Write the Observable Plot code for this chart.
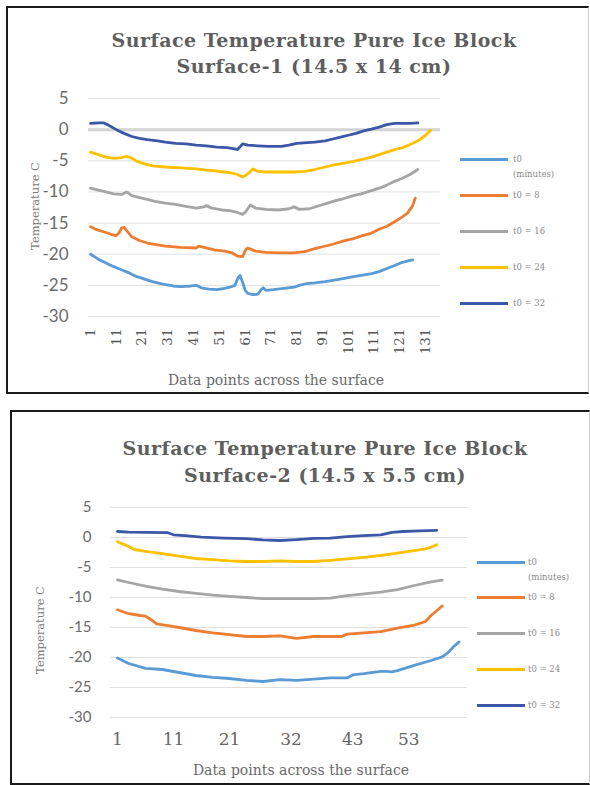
<!DOCTYPE html>
<html><head><meta charset="utf-8">
<script src="https://cdn.jsdelivr.net/npm/d3@7"></script>
<script src="https://cdn.jsdelivr.net/npm/@observablehq/plot@0.6"></script>
<style>
body{margin:0;background:#fff;width:590px;height:785px;overflow:hidden;position:relative;font-family:'DejaVu Serif',serif;}
.box{position:absolute;box-sizing:border-box;border:2px solid #1a1a1a;border-right:1px solid #cfcfcf;}
.svgwrap{position:absolute;left:0;}
.title{position:absolute;text-align:center;font-weight:bold;color:#5e5e5e;font-size:19px;letter-spacing:0.5px;white-space:nowrap;width:500px;}
.ytitle{position:absolute;transform:translate(-50%,-50%) rotate(-90deg);font-size:11.5px;color:#7a7a7a;white-space:nowrap;}
.xtitle{position:absolute;transform:translate(-50%,-50%);font-size:14px;color:#6a6a6a;white-space:nowrap;}
.sw{position:absolute;height:3px;}
.lt{position:absolute;font-size:8.5px;line-height:15px;color:#8a8a8a;width:52px;}
</style></head><body>
<script>
// ---------- data ----------
const seriesNames = ["t0 (minutes)", "t0 = 8", "t0 = 16", "t0 = 24", "t0 = 32"];
const seriesColors = ["#5b9bd5", "#ed7d31", "#a5a5a5", "#ffc000", "#3a57a8"];
const yTicks = [5, 0, -5, -10, -15, -20, -25, -30];
const xTicks1 = [1, 11, 21, 31, 41, 51, 61, 71, 81, 91, 101, 111, 121, 131];
const xTicks2 = [1, 11, 21, 32, 43, 53];

// Surface-1 (data point, temperature)
const s1_t0 = [[1,-20.0],[4,-20.8],[7,-21.4],[10,-22.0],[13,-22.5],[16,-23.0],[19,-23.6],[22,-24.0],[25,-24.4],[29,-24.8],[33,-25.1],[36,-25.2],[40,-25.1],[42,-25.0],[44,-25.4],[47,-25.6],[50,-25.7],[53,-25.5],[55,-25.3],[57,-25.0],[58,-24.0],[59,-23.4],[60,-24.5],[61,-25.8],[62,-26.3],[64,-26.5],[66,-26.4],[67,-25.8],[68,-25.4],[69,-25.8],[72,-25.7],[76,-25.5],[80,-25.3],[82,-25.0],[85,-24.7],[88,-24.6],[92,-24.4],[95,-24.2],[99,-23.9],[103,-23.6],[106,-23.4],[110,-23.1],[113,-22.8],[116,-22.3],[119,-21.8],[122,-21.3],[125,-21.0],[126,-20.9]];
const s1_t8 = [[1,-15.6],[3,-16.0],[6,-16.4],[9,-16.8],[11,-17.0],[12,-16.6],[13,-15.8],[14,-15.7],[15,-16.2],[17,-17.2],[20,-17.8],[23,-18.2],[27,-18.5],[30,-18.7],[36,-18.9],[42,-19.0],[43,-18.7],[45,-18.9],[49,-19.3],[53,-19.5],[56,-19.8],[58,-20.3],[60,-20.4],[61,-19.4],[62,-19.0],[65,-19.5],[69,-19.7],[74,-19.8],[80,-19.8],[84,-19.6],[88,-19.1],[91,-18.8],[95,-18.4],[99,-17.9],[103,-17.5],[106,-17.1],[110,-16.6],[113,-16.0],[116,-15.5],[119,-14.8],[122,-14.0],[124,-13.4],[126,-12.2],[127,-11.0]];
const s1_t16 = [[1,-9.4],[4,-9.7],[7,-10.0],[10,-10.3],[13,-10.4],[15,-10.0],[17,-10.6],[20,-10.9],[23,-11.2],[26,-11.5],[30,-11.8],[34,-12.0],[38,-12.3],[42,-12.6],[45,-12.4],[46,-12.2],[48,-12.6],[52,-12.9],[55,-13.0],[58,-13.3],[60,-13.6],[61,-13.3],[63,-12.1],[65,-12.6],[69,-12.8],[74,-12.9],[78,-12.7],[80,-12.4],[82,-12.8],[86,-12.7],[89,-12.3],[93,-11.8],[96,-11.4],[99,-11.1],[103,-10.6],[106,-10.3],[110,-9.8],[113,-9.4],[116,-8.9],[119,-8.3],[122,-7.8],[125,-7.2],[128,-6.4]];
const s1_t24 = [[1,-3.6],[4,-4.0],[7,-4.4],[10,-4.6],[13,-4.5],[15,-4.3],[17,-4.6],[19,-5.1],[22,-5.5],[25,-5.8],[30,-6.0],[36,-6.15],[42,-6.3],[46,-6.5],[49,-6.6],[53,-6.8],[55,-6.9],[58,-7.2],[60,-7.6],[62,-7.1],[64,-6.3],[66,-6.7],[69,-6.8],[75,-6.8],[80,-6.8],[84,-6.7],[88,-6.4],[92,-6.0],[95,-5.7],[99,-5.4],[103,-5.1],[106,-4.8],[110,-4.4],[113,-4.0],[116,-3.6],[119,-3.2],[122,-2.9],[125,-2.4],[128,-1.8],[131,-0.9],[133,-0.1]];
const s1_t32 = [[1,1.0],[4,1.1],[6,1.1],[8,0.7],[11,0.0],[14,-0.6],[17,-1.1],[20,-1.4],[23,-1.6],[27,-1.8],[30,-2.0],[34,-2.2],[38,-2.3],[42,-2.5],[46,-2.6],[50,-2.8],[54,-2.9],[57,-3.1],[58,-3.2],[60,-2.3],[62,-2.5],[66,-2.6],[70,-2.7],[75,-2.7],[78,-2.5],[81,-2.2],[85,-2.1],[88,-2.0],[92,-1.8],[95,-1.5],[98,-1.2],[101,-0.9],[104,-0.6],[107,-0.2],[110,0.1],[113,0.4],[116,0.8],[119,1.0],[122,1.0],[125,1.0],[128,1.1]];

// Surface-2 (data point, temperature)
const s2_t0 = [[1,-20.1],[3,-21.0],[6,-21.8],[9,-22.0],[12,-22.5],[15,-23.0],[18,-23.3],[21,-23.5],[24,-23.8],[27,-24.0],[30,-23.7],[33,-23.8],[36,-23.6],[39,-23.4],[42,-23.4],[43,-22.9],[45,-22.7],[48,-22.3],[49,-22.3],[50,-22.4],[51,-22.2],[54,-21.3],[57,-20.5],[59,-19.9],[60,-19.2],[61,-18.2],[62,-17.4]];
const s2_t8 = [[1,-12.05],[3,-12.7],[5,-13.0],[6,-13.1],[7,-13.7],[8,-14.4],[10,-14.7],[12,-15.0],[15,-15.5],[18,-15.9],[21,-16.2],[24,-16.5],[27,-16.5],[30,-16.4],[33,-16.8],[36,-16.5],[39,-16.5],[41,-16.5],[42,-16.1],[45,-15.9],[48,-15.7],[51,-15.1],[54,-14.6],[56,-14.0],[57,-13.0],[58,-12.2],[59,-11.4]];
const s2_t16 = [[1,-7.05],[3,-7.5],[6,-8.1],[9,-8.6],[12,-9.0],[15,-9.3],[18,-9.6],[21,-9.8],[24,-10.0],[27,-10.2],[30,-10.2],[33,-10.2],[36,-10.2],[39,-10.1],[42,-9.7],[45,-9.4],[48,-9.1],[51,-8.7],[54,-8.0],[57,-7.4],[59,-7.1]];
const s2_t24 = [[1,-0.7],[2,-1.1],[3,-1.5],[4,-2.0],[6,-2.3],[9,-2.7],[12,-3.1],[15,-3.5],[18,-3.7],[21,-3.9],[24,-4.0],[27,-4.0],[30,-3.9],[33,-4.0],[36,-4.0],[39,-3.8],[42,-3.55],[45,-3.3],[48,-3.0],[51,-2.6],[54,-2.2],[56,-1.9],[57,-1.6],[58,-1.2]];
const s2_t32 = [[1,1.0],[3,0.9],[6,0.85],[10,0.8],[11,0.45],[13,0.3],[16,0.05],[20,-0.1],[24,-0.2],[27,-0.4],[30,-0.5],[33,-0.35],[36,-0.15],[39,-0.1],[42,0.15],[45,0.3],[48,0.45],[50,0.85],[52,1.0],[55,1.1],[58,1.2]];

const titles1 = ["Surface Temperature Pure Ice Block", "Surface-1 (14.5 x 14 cm)"];
const titles2 = ["Surface Temperature Pure Ice Block", "Surface-2 (14.5 x 5.5 cm)"];
const xLabel = "Data points across the surface";
const yLabel = "Temperature C";

// ---------- helpers ----------
function el(tag, cls, css, text) {
  const e = document.createElement(tag);
  if (cls) e.className = cls;
  Object.assign(e.style, css || {});
  if (text != null) e.textContent = text;
  document.body.appendChild(e);
  return e;
}
function table(series) {
  const rows = [];
  series.forEach((arr, i) => arr.forEach(([p, v]) => rows.push({p, v, s: seriesNames[i]})));
  return rows;
}
function chart(cfg) {
  const data = table(cfg.series);
  const svg = Plot.plot({
    width: cfg.width, height: cfg.height,
    marginLeft: cfg.ml, marginRight: cfg.mr, marginTop: cfg.mt, marginBottom: cfg.mb,
    x: {domain: cfg.xDomain, axis: null, label: null},
    y: {domain: [-30, 5], label: null},
    color: {domain: seriesNames, range: seriesColors},
    style: {background: "transparent", overflow: "visible"},
    marks: [
      Plot.gridY(yTicks, {stroke: "#e0e0e0", strokeOpacity: 1, strokeWidth: 1}),
      ...(cfg.zeroLine ? [Plot.ruleY([0], {stroke: "#d4d4d4", strokeWidth: 3})] : []),
      Plot.axisY(yTicks, {tickSize: 0, tickPadding: cfg.yPad, fontSize: cfg.yFont, fill: "#6b6b6b", fontFamily: "Lato", tickFormat: d => String(d), label: null}),
      cfg.xAxis,
      Plot.line(data, {x: "p", y: "v", z: "s", stroke: "s", strokeWidth: 2.8, strokeLinejoin: "round"})
    ]
  });
  const wrap = el("div", "svgwrap", {top: cfg.top + "px"});
  wrap.appendChild(svg);
}
function legend(x1, x2, tx, ys) {
  seriesNames.forEach((n, i) => {
    el("div", "sw", {left: x1 + "px", width: (x2 - x1) + "px", top: (ys[i] - 1.5) + "px", background: seriesColors[i]});
    el("div", "lt", {left: tx + "px", top: (ys[i] - 7.5) + "px"}, n);
  });
}

// ---------- frames ----------
el("div", "box", {left: "6px", top: "6px", width: "583px", height: "388px"});
el("div", "box", {left: "10px", top: "410px", width: "580px", height: "375px"});

// ---------- chart 1 ----------
chart({
  top: 0, width: 460, height: 395, ml: 88, mr: 20, mt: 98, mb: 79,
  xDomain: [0.2, 136.8], yPad: 20, yFont: 17, zeroLine: true,
  series: [s1_t0, s1_t8, s1_t16, s1_t24, s1_t32],
  xAxis: Plot.axisX(xTicks1, {tickSize: 0, tickPadding: 12, tickRotate: -90, textAnchor: "end", lineAnchor: "middle", fontSize: 13.5, fill: "#555", fontFamily: "DejaVu Serif", label: null})
});
el("div", "title", {left: "64px", top: "27px", lineHeight: "26px"}, titles1[0]);
el("div", "title", {left: "64px", top: "53px", lineHeight: "26px"}, titles1[1]);
el("div", "xtitle", {left: "276px", top: "380px"}, xLabel);
el("div", "ytitle", {left: "35px", top: "206px"}, yLabel);
legend(460, 508, 513, [159, 195, 231, 267, 303]);

// ---------- chart 2 ----------
chart({
  top: 400, width: 480, height: 385, ml: 110, mr: 13, mt: 107, mb: 68,
  xDomain: [-0.25, 63.5], yPad: 19, yFont: 15, zeroLine: false,
  series: [s2_t0, s2_t8, s2_t16, s2_t24, s2_t32],
  xAxis: Plot.axisX(xTicks2, {tickSize: 0, tickPadding: 15, fontSize: 17, fill: "#666", fontFamily: "DejaVu Serif", label: null})
});
el("div", "title", {left: "75px", top: "435px", lineHeight: "27px"}, titles2[0]);
el("div", "title", {left: "75px", top: "462px", lineHeight: "27px"}, titles2[1]);
el("div", "xtitle", {left: "301px", top: "770px"}, xLabel);
el("div", "ytitle", {left: "40px", top: "630px"}, yLabel);
legend(477, 525, 528, [562, 597, 633, 669, 705]);
</script>
</body></html>
